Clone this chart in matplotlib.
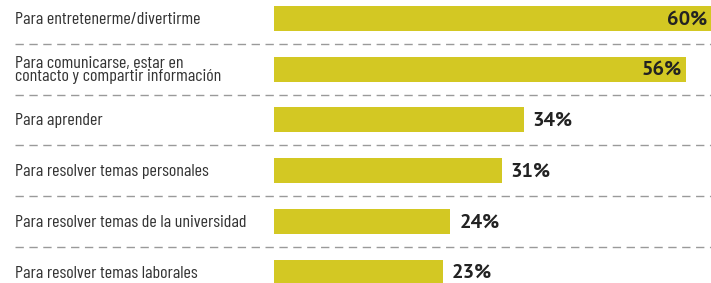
import matplotlib
matplotlib.use("Agg")
import matplotlib.pyplot as plt
from matplotlib import font_manager as fm

categories = [
    "Para entretenerme/divertirme",
    "Para comunicarse, estar en\ncontacto y compartir información",
    "Para aprender",
    "Para resolver temas personales",
    "Para resolver temas de la universidad",
    "Para resolver temas laborales",
]
values = [60, 56, 34, 31, 24, 23]
value_labels = ["60%", "56%", "34%", "31%", "24%", "23%"]

fonts = fm.fontManager.ttflist
names = {f.name for f in fonts}
bold_names = {f.name for f in fonts if f.weight in (700, "bold") and f.style == "normal"}


def pick(cands, pool, default="DejaVu Sans"):
    for c in cands:
        if c in pool:
            return c
    return default


label_font = pick(["Barlow Condensed", "Sofia Sans Condensed", "PT Sans Narrow",
                   "Roboto Condensed", "Liberation Sans Narrow"], names)
num_font = pick(["PT Sans", "Fira Sans", "Lato", "Open Sans", "DejaVu Sans"], bold_names)

W, H = 711, 283
fig = plt.figure(figsize=(W / 100, H / 100), dpi=100)
ax = fig.add_axes([0, 0, 1, 1])
renderer = fig.canvas.get_renderer()


def fit_size(text, family, weight, target_px, base=12.0):
    t = fig.text(0, 0, text, fontsize=base, family=family, fontweight=weight)
    w = t.get_window_extent(renderer).width
    t.remove()
    return base * target_px / w if w > 0 else base


label_size = fit_size(categories[0], label_font, "normal", 185)
num_size = fit_size("60%", num_font, "bold", 40)

px_per_unit = 7.35
x0_px = 274
xmax = (W - x0_px) / px_per_unit
ax.set_xlim(-x0_px / px_per_unit, xmax)
spacing = 50.7
c0 = 18.5
ax.set_ylim((H - c0) / spacing, -c0 / spacing)

bar_color = "#D3C823"
ys = list(range(len(values)))
ax.barh(ys, values, height=25 / spacing, color=bar_color, left=0)

label_x = -(x0_px - 15) / px_per_unit
for y, cat in zip(ys, categories):
    ax.text(label_x, y + 0.02, cat, ha="left", va="center", fontsize=label_size,
            family=label_font, color="#333333", linespacing=0.85)

for y, v, lab in zip(ys, values, value_labels):
    if v >= 50:
        right = min(v, xmax) - 4 / px_per_unit
        ax.text(right, y + 0.02, lab, ha="right", va="center",
                fontsize=num_size, fontweight="bold", family=num_font, color="#222222")
    else:
        ax.text(v + 9 / px_per_unit, y + 0.02, lab, ha="left", va="center",
                fontsize=num_size, fontweight="bold", family=num_font, color="#222222")

for k in range(len(values) - 1):
    yl = k + 0.5
    ax.plot([label_x, xmax], [yl, yl], color="#9a9a9a",
            linewidth=1.0, linestyle=(0, (6, 4)))

ax.axis("off")
fig.savefig("out.png", dpi=100)
